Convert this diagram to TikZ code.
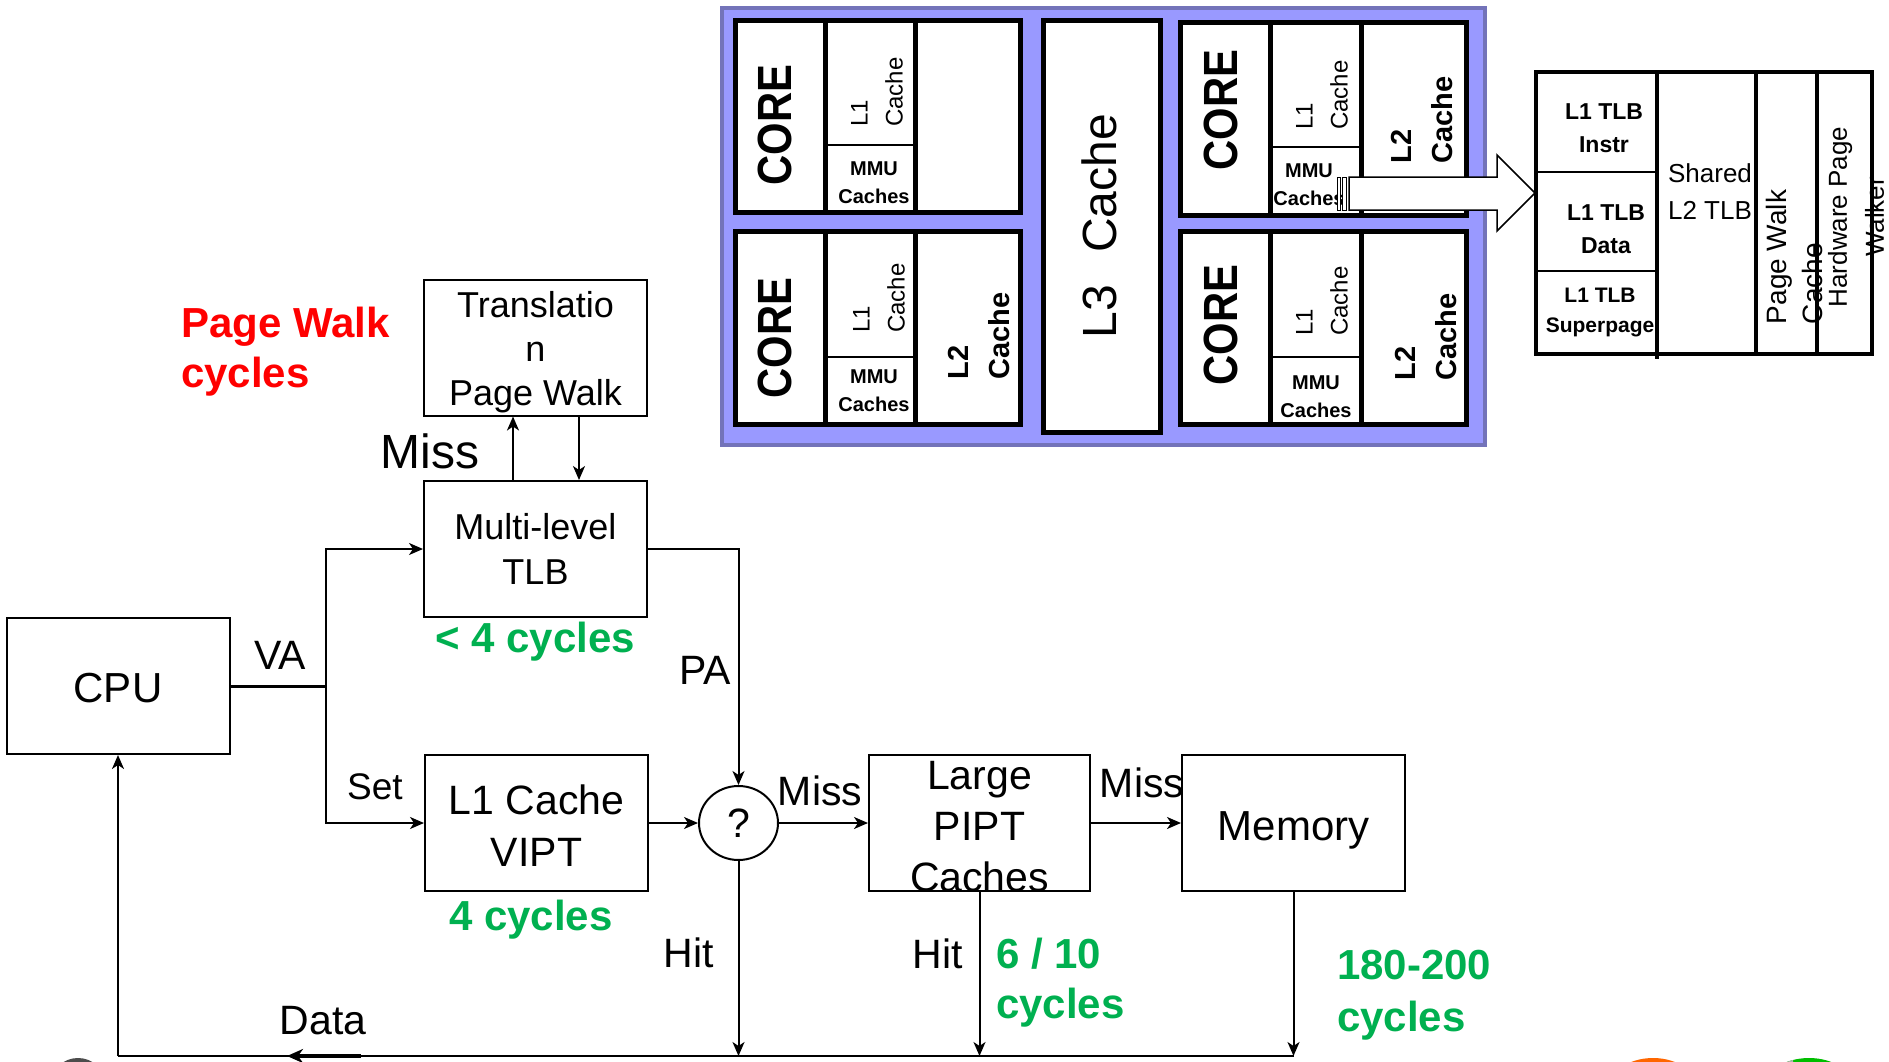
\documentclass[tikz,border=0pt]{standalone}
\usepackage{fontspec}
\setmainfont{Liberation Sans}
\usetikzlibrary{arrows.meta,shapes.geometric}
\definecolor{pwred}{RGB}{255,0,0}
\definecolor{cyc}{RGB}{0,176,80}
\definecolor{chipfill}{RGB}{153,153,255}
\definecolor{chipedge}{RGB}{115,115,185}
\definecolor{iconorange}{RGB}{255,102,0}
\definecolor{icongreen}{RGB}{0,190,0}
\newcommand{\fsz}[2]{\fontsize{#1}{#2}\selectfont}
\newcommand{\coreblk}[7]{%
  \draw[line width=5pt, fill=white] (#1,#2) rectangle (#3,#4);
  \draw[line width=5pt] (#5,#2) -- (#5,#4);
  \draw[line width=5pt] (#6,#2) -- (#6,#4);
  \draw[line width=2pt] (#5,#7) -- (#6,#7);}
\begin{document}
\begin{tikzpicture}[x=1pt,y=-1pt,
  box/.style={draw, line width=2pt, inner sep=0pt, minimum width=223pt, minimum height=136pt},
  arr/.style={line width=2pt, -{Stealth[length=14pt,width=12pt,inset=4pt]}},
  conn/.style={line width=2pt},
  lbl/.style={inner sep=0pt, font=\fsz{41}{50}},
  boxtxt/.style={inner sep=0pt, align=center},
  grn/.style={inner sep=0pt, text=cyc, font=\bfseries\fsz{42}{50}, align=left},
  corelbl/.style={rotate=90, inner sep=0pt, font=\bfseries\fsz{48}{56}},
  l1lbl/.style={rotate=90, inner sep=0pt, align=left, font=\fsz{24}{35}},
  l2lbl/.style={rotate=90, inner sep=0pt, align=left, font=\bfseries\fsz{29}{41}},
  mmulbl/.style={inner sep=0pt, align=center, font=\bfseries\fsz{20}{28}},
  tlbtxt/.style={inner sep=0pt, align=center, font=\bfseries\fsz{23}{33}}
]
\useasboundingbox (0,0) rectangle (1889,1062);
\fill[white] (0,0) rectangle (1889,1062);

% ---------- partial icons at the bottom edge ----------
\begin{scope}
  \clip (0,0) rectangle (1889,1062);
  \fill[gray!60!black] (78,1080) ellipse [x radius=25pt, y radius=22pt];
  \fill[iconorange] (1653,1090) ellipse [x radius=45pt, y radius=32pt];
  \fill[icongreen] (1809,1090) ellipse [x radius=46pt, y radius=32pt];
  \begin{scope}
    \clip (1700,1040) rectangle (1793,1070);
    \fill[gray!60] (1809,1090) ellipse [x radius=46pt, y radius=32pt];
  \end{scope}
\end{scope}

% ---------- chip ----------
\draw[fill=chipfill, draw=chipedge, line width=4pt] (722,8) rectangle (1485,445);
\coreblk{735.5}{20.5}{1020.5}{212.5}{825}{915}{145}
\coreblk{735.5}{231.5}{1020.5}{424.5}{825}{915}{357}
\coreblk{1180.5}{22.5}{1466.5}{215.5}{1270}{1361}{147}
\coreblk{1180.5}{231.5}{1466.5}{424.5}{1270}{1361}{357}
\draw[line width=5pt, fill=white] (1043.5,20.5) rectangle (1160.5,432.5);

\node[corelbl] (core1) at (775,125) {\scalebox{0.87}[1]{CORE}};
\node[corelbl] (core2) at (775,338) {\scalebox{0.87}[1]{CORE}};
\node[corelbl] (core3) at (1221,110) {\scalebox{0.87}[1]{CORE}};
\node[corelbl] (core4) at (1221,325) {\scalebox{0.87}[1]{CORE}};

\node[l1lbl] (l1c1) at (877,92) {L1\\Cache};
\node[l1lbl] (l1c2) at (879,298) {L1\\Cache};
\node[l1lbl] (l1c3) at (1322,95) {L1\\Cache};
\node[l1lbl] (l1c4) at (1322,301) {L1\\Cache};

\node[mmulbl] (mmu1) at (874,183) {MMU\\Caches};
\node[mmulbl] (mmu2) at (874,391) {MMU\\Caches};
\node[mmulbl] (mmu3) at (1309,185) {MMU\\Caches};
\node[mmulbl] (mmu4) at (1316,397) {MMU\\Caches};

\node[l2lbl] (l2c2) at (979,336) {L2\\Cache};
\node[l2lbl] (l2c3) at (1422,120) {L2\\Cache};
\node[l2lbl] (l2c4) at (1426,337) {L2\\Cache};

\node[rotate=90, inner sep=0pt, font=\fsz{48}{56}] (l3) at (1099,226) {L3\hspace{32pt}Cache};

% ---------- big hollow arrow ----------
\draw[fill=white, line width=1.5pt] (1349,177) -- (1497,177) -- (1497,155) -- (1535,193)
  -- (1497,231) -- (1497,210) -- (1349,210) -- cycle;
\draw[fill=white, line width=1pt] (1337,177) rectangle (1340,210);
\draw[fill=white, line width=1pt] (1342,177) rectangle (1346,210);

% ---------- TLB hierarchy block ----------
\draw[line width=4.5pt] (1536,72) rectangle (1872,354);
\draw[line width=4.5pt] (1657,72) -- (1657,359);
\draw[line width=4.5pt] (1756,72) -- (1756,354);
\draw[line width=4.5pt] (1817,72) -- (1817,354);
\draw[line width=2pt] (1536,172) -- (1657,172);
\draw[line width=2pt] (1536,271) -- (1657,271);
\node[tlbtxt] (tinstr) at (1604,128) {L1 TLB\\Instr};
\node[tlbtxt] (tdata) at (1606,229) {L1 TLB\\Data};
\node[tlbtxt, font=\bfseries\fsz{21}{30}] (tsup) at (1600,312) {L1 TLB\\Superpage};
\node[inner sep=0pt, align=center, font=\fsz{26}{37}] (tshared) at (1710,192) {Shared\\L2 TLB};
\node[rotate=90, inner sep=0pt, align=left, font=\fsz{28}{36}] (tpwc) at (1794,257) {Page Walk\\Cache};
\node[rotate=90, inner sep=0pt, align=center, font=\fsz{26}{37}] (thpw) at (1856,217) {Hardware Page\\Walker};

% ---------- lower flow diagram ----------
\node[box] (cpu) at (118,686) {};
\node[boxtxt, font=\fsz{42}{50}] (cputxt) at (118,688) {CPU};
\node[box, align=center, font=\fsz{36}{45}] (tlb) at (535.5,549) {Multi-level\\TLB};
\node[box] (tw) at (535.5,347.5) {};
\node[boxtxt, font=\fsz{36}{44}] (twtxt) at (535.5,352) {Translatio\\n\\Page Walk};
\node[box] (l1) at (536.5,823) {};
\node[boxtxt, font=\fsz{41}{52}] (l1txt) at (536.5,826) {L1 Cache\\VIPT};
\node[draw, ellipse, line width=2pt, inner sep=0pt, minimum width=79pt, minimum height=74pt, font=\fsz{41}{50}] (q) at (738.5,823) {?};
\node[box, minimum width=221pt] (pipt) at (979.5,823) {};
\node[boxtxt, font=\fsz{41}{51}] (pipttxt) at (979.5,826.5) {Large\\PIPT\\Caches};
\node[box] (mem) at (1293.5,823) {};
\node[boxtxt, text depth=0pt, font=\fsz{42}{50}] (memtxt) at (1293.5,826) {Memory};

\node[lbl] (lva) at (280,655) {VA};
\node[lbl, font=\fsz{37}{45}] (lset) at (375,787) {Set};
\node[lbl] (lpa) at (705,670) {PA};
\node[lbl] (lmiss1) at (820,791) {Miss};
\node[lbl] (lmiss2) at (1142,783) {Miss};
\node[lbl] (lhit1) at (689,953) {Hit};
\node[lbl] (lhit2) at (938,954) {Hit};
\node[lbl] (ldata) at (323,1021) {Data};
\node[lbl, font=\fsz{48}{56}] (lmiss0) at (430,451) {Miss};

\node[inner sep=0pt, anchor=west, align=left, text=pwred, font=\bfseries\fsz{42}{50}] (pw) at (181,352) {Page Walk\\cycles};
\node[grn, anchor=base] (cy1) at (535,652) {< 4 cycles};
\node[grn, anchor=base] (cy2) at (531,930) {4 cycles};
\node[grn, anchor=west] (cy3) at (996,982.5) {6 / 10\\cycles};
\node[grn, anchor=west, font=\bfseries\fsz{42}{52}] (cy4) at (1337,995.5) {180-200\\cycles};

\coordinate (j) at (326,686);
\coordinate (bq) at (738.5,1056);
\coordinate (bp) at (979.5,1056);
\coordinate (bm) at (1293.5,1056);
\coordinate (bc) at (118,1056);
\coordinate (da) at (361,1056);
\coordinate (db) at (287,1056);

\draw[line width=3pt] (cpu.east) -- (j);
\draw[arr] (j) |- (tlb.west);
\draw[arr] (j) |- (l1.west);
\draw[arr] (tlb.east) -| (q.north);
\draw[arr] (l1.east) -- (q.west);
\draw[arr] (q.east) -- (pipt.west);
\draw[arr] (pipt.east) -- (mem.west);
\draw[arr] ([xshift=-22.5pt]tlb.north) -- ([xshift=-22.5pt]tw.south);
\draw[arr] ([xshift=43.5pt]tw.south) -- ([xshift=43.5pt]tlb.north);
\draw[arr] (q.south) -- (bq);
\draw[arr] (pipt.south) -- (bp);
\draw[arr] (mem.south) -- (bm);
\draw[conn] (bm) -- (bc);
\draw[arr] (bc) -- (cpu.south);
\draw[line width=4pt, -{Stealth[length=16pt,width=14pt,inset=5pt]}] (da) -- (db);
\end{tikzpicture}
\end{document}
